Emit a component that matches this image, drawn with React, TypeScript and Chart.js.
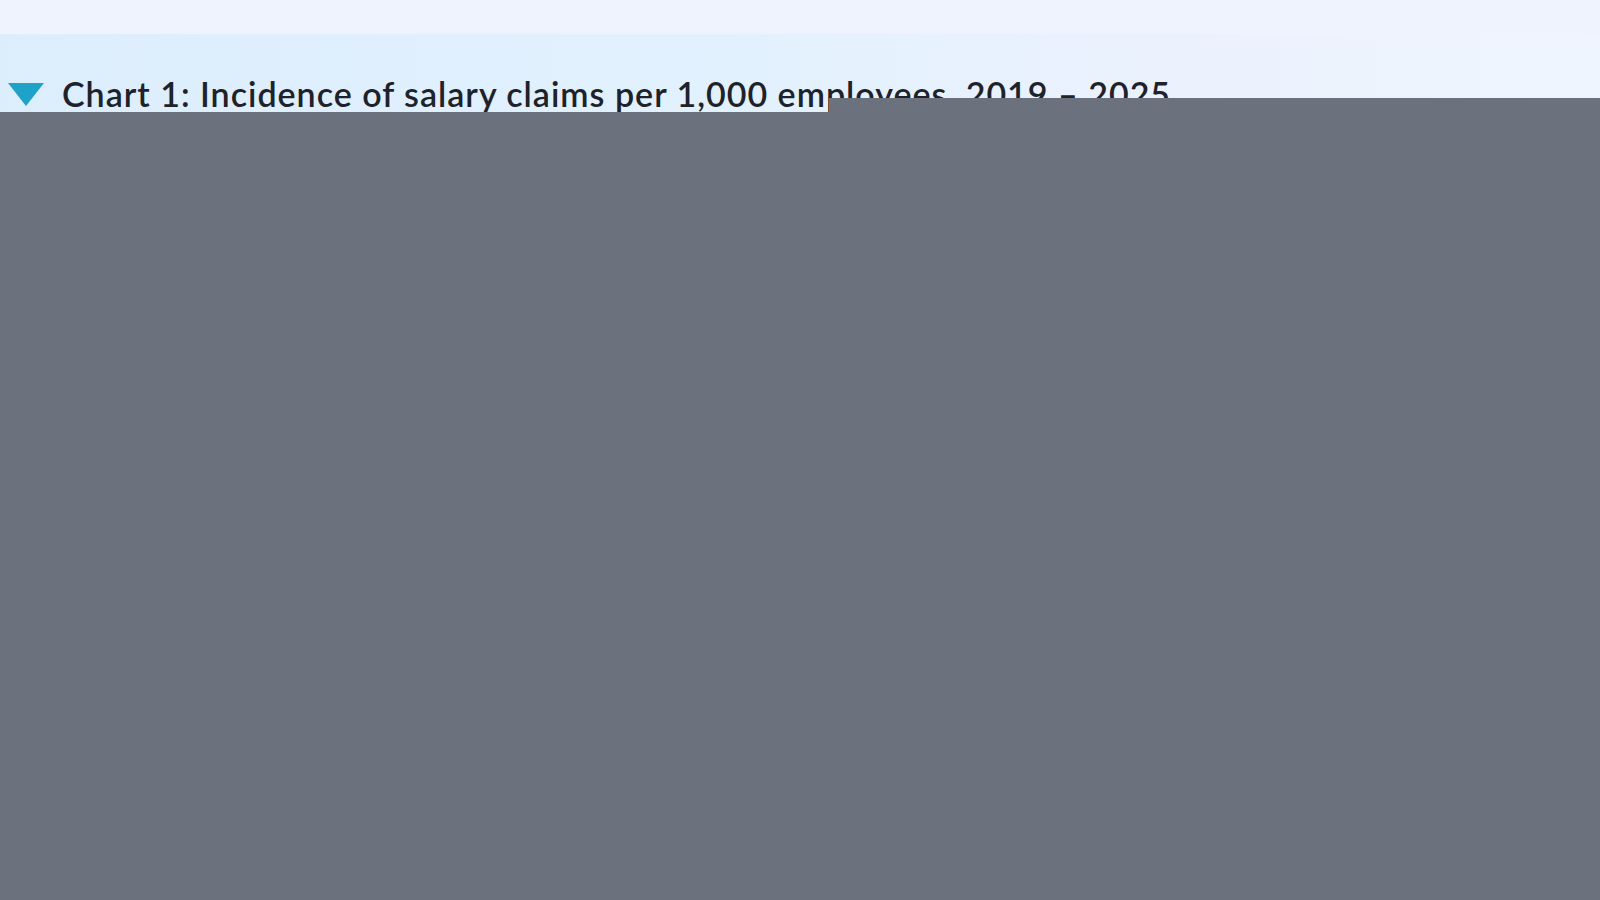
import React, { useEffect, useRef } from 'react';
import Chart, { ChartConfiguration, Plugin } from 'chart.js/auto';

// categories from the title (2019 - 2025)
const years = ['2019', '2020', '2021', '2022', '2023', '2024', '2025'];
// the plot in the reference is fully covered by a grey panel, no value can be read
const claimsPer1000: (number | null)[] = [null, null, null, null, null, null, null];

const titleText = 'Chart 1: Incidence of salary claims per 1,000 employees, 2019 – 2025';

const panelGrey = '#6b727d';

// grey panel over the plot, leaving a notch under the left half of the title
const greyPanel: Plugin = {
    id: 'greyPanel',
    beforeDraw(chart) {
        const { ctx, width, height } = chart;
        ctx.save();
        ctx.fillStyle = panelGrey;
        ctx.fillRect(829, 0, width - 829, 14);
        ctx.fillRect(0, 14, width, height - 14);
        ctx.restore();
    }
};

export default function App() {
    const chartRef = useRef<HTMLCanvasElement | null>(null);
    const chartInstance = useRef<Chart | null>(null);

    useEffect(() => {
        if (!chartRef.current) return;
        const ctx = chartRef.current.getContext('2d');
        if (!ctx) return;
        const config: ChartConfiguration<'bar'> = {
            type: 'bar',
            data: {
                labels: years,
                datasets: [{
                    label: 'Salary claims per 1,000 employees',
                    data: claimsPer1000,
                    backgroundColor: '#1ea2c8',
                }]
            },
            options: {
                animation: false,
                responsive: true,
                maintainAspectRatio: false,
                events: [],
                plugins: {
                    legend: { display: false },
                    tooltip: { enabled: false },
                },
                scales: {
                    x: { display: false },
                    y: { display: false, beginAtZero: true },
                }
            },
            plugins: [greyPanel]
        };
        chartInstance.current = new Chart(ctx, config);
        return () => {
            if (chartInstance.current) {
                chartInstance.current.destroy();
                chartInstance.current = null;
            }
        };
    }, []);

    return (
        <div style={{ position: 'fixed', left: 0, top: 0, width: 1600, height: 900, overflow: 'hidden', background: '#eef3fd' }}>
            <div style={{
                position: 'absolute', left: 0, top: 34, width: 1600, height: 80,
                background: 'linear-gradient(90deg, #dcedfc 0%, #e2f1fe 45%, #ebf2fd 75%, #eef5fe 100%)'
            }} />
            <div style={{
                position: 'absolute', left: 8, top: 83, width: 0, height: 0,
                borderLeft: '18px solid transparent', borderRight: '18px solid transparent',
                borderTop: '23px solid #1ea2c8'
            }} />
            <div style={{
                position: 'absolute', left: 62, top: 74, whiteSpace: 'nowrap',
                fontFamily: 'Lato, "Open Sans", sans-serif', fontSize: 34, fontWeight: 600,
                color: '#1e222a', lineHeight: '40px', letterSpacing: 1.0
            }}>{titleText}</div>
            <div style={{ position: 'absolute', left: 0, top: 98, width: 1600, height: 802 }}>
                <canvas ref={chartRef} />
            </div>
        </div>
    );
}
